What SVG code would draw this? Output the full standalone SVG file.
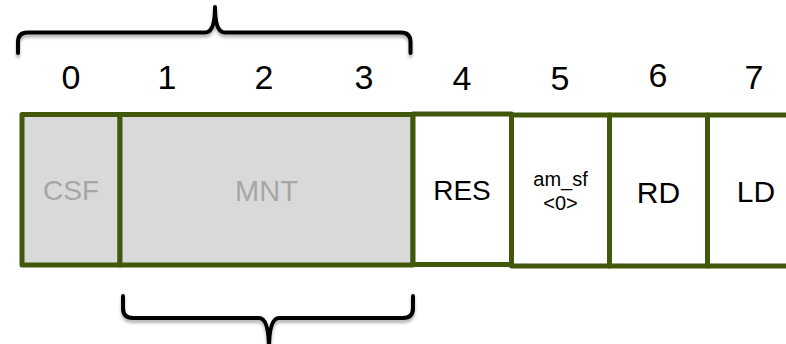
<svg xmlns="http://www.w3.org/2000/svg" width="786" height="344" viewBox="0 0 786 344">
  <defs>
    <filter id="soft-shadow" x="-10%" y="-30%" width="120%" height="180%">
      <feDropShadow dx="0" dy="3" stdDeviation="1.8" flood-color="#000" flood-opacity="0.3"/>
    </filter>
    <style>
      .cell { stroke: #41580a; stroke-width: 5; stroke-linejoin: round; }
      .masked { fill: #d9d9d9; }
      .open { fill: #ffffff; }
      .label { font-family: "Liberation Sans", Arial, sans-serif; text-anchor: middle; fill: #000; }
      .dim { fill: #a6a6a6; }
      .idx { font-size: 34px; }
      .brace { fill: none; stroke: #000; stroke-width: 4; stroke-linecap: round; stroke-linejoin: round; filter: url(#soft-shadow); }
    </style>
  </defs>

  <!-- byte index numbers -->
  <g id="indices">
    <text class="label idx" x="71" y="89">0</text>
    <text class="label idx" x="167" y="89">1</text>
    <text class="label idx" x="264" y="89">2</text>
    <text class="label idx" x="364" y="89">3</text>
    <text class="label idx" x="462" y="90">4</text>
    <text class="label idx" x="560" y="90">5</text>
    <text class="label idx" x="658" y="87">6</text>
    <text class="label idx" x="754" y="89">7</text>
  </g>

  <!-- field cells -->
  <g id="csf">
    <rect class="cell masked" x="22" y="114.5" width="98" height="150.5"/>
    <text class="label dim" x="71" y="200" font-size="28">CSF</text>
  </g>
  <g id="mnt">
    <rect class="cell masked" x="120" y="114.5" width="293" height="150.5"/>
    <text class="label dim" x="266.5" y="201" font-size="29">MNT</text>
  </g>
  <g id="res">
    <rect class="cell open" x="413" y="114" width="98.5" height="150.5"/>
    <text class="label" x="462" y="200" font-size="28">RES</text>
  </g>
  <g id="am_sf">
    <rect class="cell open" x="511.5" y="115" width="98" height="151"/>
    <text class="label" x="560.5" y="186" font-size="20">am_sf</text>
    <text class="label" x="560.5" y="210" font-size="20">&lt;0&gt;</text>
  </g>
  <g id="rd">
    <rect class="cell open" x="609.5" y="115" width="98" height="151"/>
    <text class="label" x="658.5" y="203" font-size="30">RD</text>
  </g>
  <g id="ld">
    <rect class="cell open" x="707.5" y="115" width="100" height="151"/>
    <text class="label" x="756" y="202" font-size="30">LD</text>
  </g>

  <!-- grouping braces -->
  <g id="connectors">
    <path class="brace" d="M18 53 L18 42 Q18 32.5 27.5 32.5 L205 32.5 Q215 32.5 215 7 Q215 32.5 225 32.5 L401 32.5 Q410.5 32.5 410.5 42 L410.5 53"/>
    <path class="brace" d="M123 296 L123 308 Q123 318 133 318 L259 318 Q269 318 269 350 Q269 318 279 318 L403 318 Q413 318 413 308 L413 296"/>
  </g>
</svg>
